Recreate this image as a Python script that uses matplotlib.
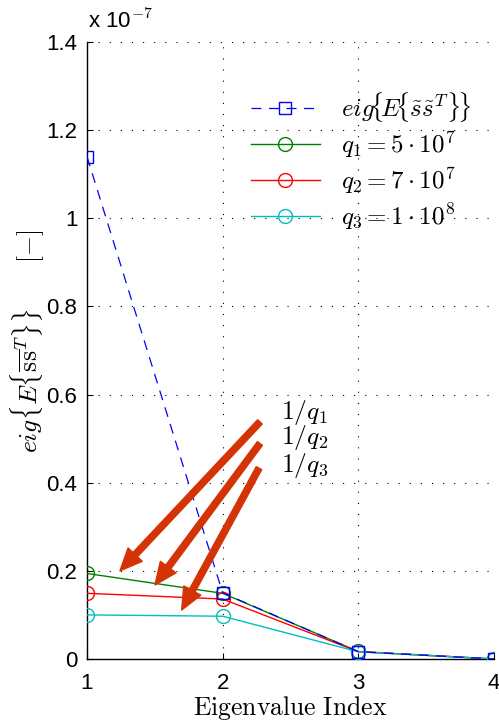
import matplotlib
matplotlib.use("Agg")
import matplotlib.pyplot as plt
from matplotlib.ticker import FixedLocator

plt.rcParams['mathtext.fontset'] = 'cm'
plt.rcParams['font.family'] = ['Liberation Sans', 'DejaVu Sans']

# Eigenvalue index and eigenvalues (in units of 1e-7)
index = [1, 2, 3, 4]
eig_ss = [1.14, 0.150, 0.0166, 0.0]
eig_q1 = [0.194, 0.149, 0.0170, 0.0]
eig_q2 = [0.149, 0.136, 0.0165, 0.0]
eig_q3 = [0.100, 0.097, 0.0163, 0.0]

labels = [r'$eig\!\{\!E\!\{\tilde{s}\tilde{s}^T\}\!\}$',
          r'$q_1 = 5\cdot10^7$',
          r'$q_2 = 7\cdot10^7$',
          r'$q_3 = 1\cdot10^8$']

# Annotation arrows: (tail x, tail y) -> (head x, head y), with labels
arrow_tails = [(2.275, 0.538), (2.275, 0.489), (2.268, 0.433)]
arrow_heads = [(1.243, 0.200), (1.501, 0.168), (1.698, 0.111)]
arrow_texts = [r'$1/q_1$', r'$1/q_2$', r'$1/q_3$']
text_pos = [(2.43, 0.560), (2.43, 0.502), (2.43, 0.440)]

yticks = [0, 0.2, 0.4, 0.6, 0.8, 1.0, 1.2, 1.4]
yticklabels = ['0', '0.2', '0.4', '0.6', '0.8', '1', '1.2', '1.4']

fig = plt.figure(figsize=(4.99, 7.22), dpi=100)
ax = fig.add_axes([0.1743, 0.0873, 0.8156, 0.8545])

green = (0, 0.5, 0)
cyan = (0, 0.75, 0.75)
ax.plot(index, eig_ss, color='b', ls=(0, (8, 6)), lw=0.9, marker='s',
        ms=8.5, mfc='none', mec='b', mew=1.0, label=labels[0], zorder=5)
ax.plot(index, eig_q1, color=green, lw=1.0, marker='o', ms=10,
        mfc='none', mec=green, mew=1.0, label=labels[1], zorder=4)
ax.plot(index, eig_q2, color='r', lw=1.0, marker='o', ms=10,
        mfc='none', mec='r', mew=1.0, label=labels[2], zorder=4)
ax.plot(index, eig_q3, color=cyan, lw=1.0, marker='o', ms=10,
        mfc='none', mec=cyan, mew=1.0, label=labels[3], zorder=4)

arrow_color = (0.83, 0.2, 0.02)
for (tx, ty), (hx, hy) in zip(arrow_tails, arrow_heads):
    ax.annotate('', xy=(hx, hy), xytext=(tx, ty),
                arrowprops=dict(arrowstyle='simple,head_width=1.4,head_length=1.6,tail_width=0.45',
                                color=arrow_color, shrinkA=0, shrinkB=0, mutation_scale=10),
                zorder=6)
for (px, py), t in zip(text_pos, arrow_texts):
    ax.text(px, py, t, fontsize=18.5, ha='left', va='center', zorder=7)

ax.set_xlim(1, 4)
ax.set_ylim(0, 1.4)
ax.xaxis.set_major_locator(FixedLocator(index))
ax.set_yticks(yticks)
ax.set_yticklabels(yticklabels)
ax.tick_params(direction='in', length=4, labelsize=16, width=0.8)
ax.tick_params(axis='x', pad=10)
ax.tick_params(axis='y', pad=7)
for s in ['top', 'right']:
    ax.spines[s].set_visible(False)
for s in ['left', 'bottom']:
    ax.spines[s].set_linewidth(1.0)
ax.grid(True, color='black', ls=(0, (1, 9)), lw=0.8)
ax.set_axisbelow(True)

fig.text(0.176, 0.970, r'x 10$^{-7}$', fontsize=16, ha='left', va='center')

ax.set_xlabel(r'$\mathrm{Eigenvalue\ Index}$', fontsize=18.5, labelpad=0)
ax.set_ylabel(r'$eig\{E\{\overline{\mathrm{ss}}^T\}\}\qquad[-]$', fontsize=18.5)
ax.yaxis.set_label_coords(-0.10, 0.515)

leg = ax.legend(loc='upper left', bbox_to_anchor=(0.403, 0.922), frameon=False,
                fontsize=18, handlelength=2.75, handletextpad=0.85, labelspacing=0.2,
                borderaxespad=0, borderpad=0)

fig.savefig('out.png', dpi=100)
